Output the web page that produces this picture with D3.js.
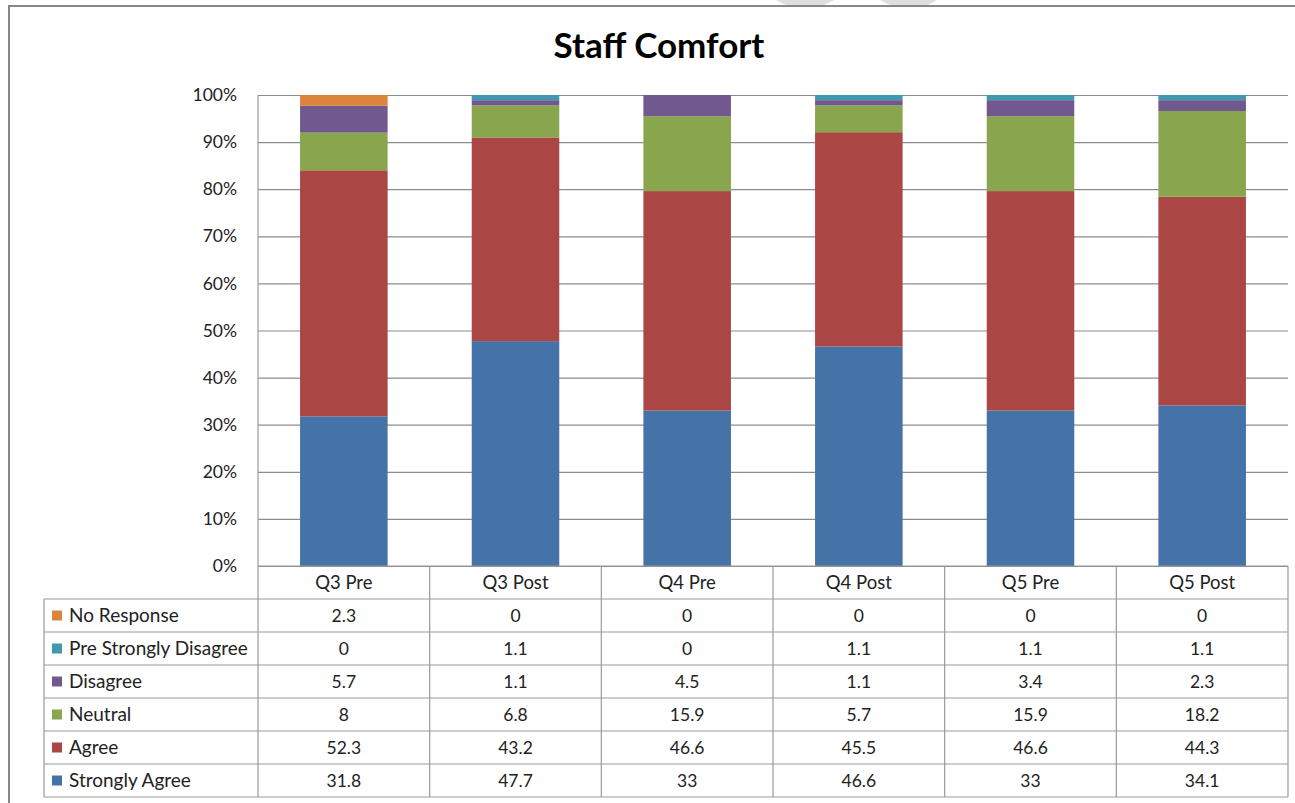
<!DOCTYPE html>
<html>
<head>
<meta charset="utf-8">
<script src="https://cdn.jsdelivr.net/npm/d3@7"></script>
<style>
  html, body { margin: 0; padding: 0; background: #fff; }
  svg { display: block; font-family: Lato, "Open Sans", sans-serif; }
</style>
</head>
<body>
<svg id="chart" width="1295" height="803"></svg>
<script>
// Survey groups along the x axis
const categories = ["Q3 Pre", "Q3 Post", "Q4 Pre", "Q4 Post", "Q5 Pre", "Q5 Post"];

// Responses per group (percent), listed bottom-to-top in the stack
const strongAgree   = [31.8, 47.7, 33,   46.6, 33,   34.1];
const agree         = [52.3, 43.2, 46.6, 45.5, 46.6, 44.3];
const neutral       = [8,    6.8,  15.9, 5.7,  15.9, 18.2];
const disagree      = [5.7,  1.1,  4.5,  1.1,  3.4,  2.3];
const strongDisagree= [0,    1.1,  0,    1.1,  1.1,  1.1];
const noResponse    = [2.3,  0,    0,    0,    0,    0];

const seriesNames  = ["Strongly Agree", "Agree", "Neutral", "Disagree", "Pre Strongly Disagree", "No Response"];
const seriesValues = [strongAgree, agree, neutral, disagree, strongDisagree, noResponse];
const seriesColors = ["#4572A7", "#AA4643", "#89A54E", "#71588F", "#4198AF", "#DB843D"];

const yTicks = [0, 0.1, 0.2, 0.3, 0.4, 0.5, 0.6, 0.7, 0.8, 0.9, 1];

// Rows of the data table for the stack
const rows = categories.map((c, i) => {
  const r = { cat: c };
  seriesNames.forEach((s, k) => { r[s] = seriesValues[k][i]; });
  return r;
});

const svg = d3.select("#chart");
const plot = { left: 258, right: 1288, top: 95, bottom: 566 };
const rowH = 33;
const legendLeft = 44;
const tableTop = plot.bottom;           // header row
const bodyTop = plot.bottom + rowH;     // first legend row
const labelSize = 18.5;
const numberSize = 17.5;

const x = d3.scaleBand().domain(categories).range([plot.left, plot.right]).paddingInner(0.49).paddingOuter(0.245);
const xCol = d3.scaleBand().domain(categories).range([plot.left, plot.right]);
const y = d3.scaleLinear().domain([0, 1]).range([plot.bottom, plot.top]);
const color = d3.scaleOrdinal().domain(seriesNames).range(seriesColors);

// Outer frame (left and top edges inside the window)
svg.append("path")
  .attr("d", `M9,803 V6 H1295`)
  .attr("fill", "none").attr("stroke", "#878787").attr("stroke-width", 2);

// Faint marks above the frame
svg.append("path").attr("d", "M776,0 H834 L824,5 H786 Z").attr("fill", "#dedede");
svg.append("path").attr("d", "M880,0 H937 L928,5 H890 Z").attr("fill", "#dedede");

// Title
svg.append("text")
  .attr("x", 659).attr("y", 58)
  .attr("text-anchor", "middle")
  .attr("font-size", 35).attr("font-weight", 700).attr("fill", "#000")
  .text("Staff Comfort");

// Gridlines
svg.append("g")
  .attr("transform", `translate(${plot.left},0)`)
  .call(d3.axisRight(y).tickValues(yTicks).tickSize(plot.right - plot.left).tickFormat(""))
  .call(g => g.select(".domain").remove())
  .call(g => g.selectAll("line").attr("stroke", "#8c8c8c").attr("stroke-width", 1.2));

// Y axis labels
svg.append("g")
  .attr("transform", `translate(${plot.left},0)`)
  .call(d3.axisLeft(y).tickValues(yTicks).tickSize(0).tickPadding(21).tickFormat(d3.format(".0%")))
  .call(g => g.select(".domain").remove())
  .call(g => g.selectAll("text").attr("font-size", 17.5).attr("fill", "#222").attr("font-family", "Lato, sans-serif"));

// Stacked 100% bars
const stack = d3.stack().keys(seriesNames).offset(d3.stackOffsetExpand);
const layers = stack(rows);
svg.append("g").selectAll("g")
  .data(layers).join("g")
  .attr("fill", d => color(d.key))
  .selectAll("rect")
  .data(d => d).join("rect")
  .attr("x", d => x(d.data.cat))
  .attr("width", x.bandwidth())
  .attr("y", d => y(d[1]))
  .attr("height", d => Math.max(0, y(d[0]) - y(d[1])));

// Data table
const table = svg.append("g").attr("stroke", "#9a9a9a").attr("stroke-width", 1.2).attr("fill", "none");
const tableBottom = bodyTop + rowH * seriesNames.length;
// Horizontal rules
table.append("line").attr("x1", plot.left).attr("x2", plot.right).attr("y1", tableTop).attr("y2", tableTop);
d3.range(seriesNames.length + 1).forEach(i => {
  const yy = bodyTop + i * rowH;
  table.append("line").attr("x1", legendLeft).attr("x2", plot.right).attr("y1", yy).attr("y2", yy);
});
// Vertical rules
table.append("line").attr("x1", plot.left).attr("x2", plot.left).attr("y1", plot.top).attr("y2", tableBottom);
table.append("line").attr("x1", legendLeft).attr("x2", legendLeft).attr("y1", bodyTop).attr("y2", tableBottom);
categories.forEach(c => {
  const xx = xCol(c) + xCol.bandwidth();
  table.append("line").attr("x1", xx).attr("x2", xx).attr("y1", tableTop).attr("y2", tableBottom);
});

// Header labels
svg.append("g").selectAll("text")
  .data(categories).join("text")
  .attr("x", d => xCol(d) + xCol.bandwidth() / 2)
  .attr("y", tableTop + rowH / 2)
  .attr("dy", "0.36em")
  .attr("text-anchor", "middle")
  .attr("font-size", labelSize).attr("fill", "#222")
  .text(d => d);

// Legend rows (top row = last series)
const legendOrder = seriesNames.slice().reverse();
const legendRows = svg.append("g").selectAll("g")
  .data(legendOrder).join("g")
  .attr("transform", (d, i) => `translate(0,${bodyTop + i * rowH})`);
legendRows.append("rect")
  .attr("x", 52).attr("y", rowH / 2 - 5)
  .attr("width", 10).attr("height", 10)
  .attr("fill", d => color(d));
legendRows.append("text")
  .attr("x", 69).attr("y", rowH / 2).attr("dy", "0.36em")
  .attr("font-size", 19).attr("fill", "#222")
  .text(d => d);

// Values in each cell
legendRows.each(function (name) {
  const vals = seriesValues[seriesNames.indexOf(name)];
  d3.select(this).selectAll("text.val")
    .data(vals).join("text")
    .attr("class", "val")
    .attr("x", (v, i) => xCol(categories[i]) + xCol.bandwidth() / 2)
    .attr("y", rowH / 2).attr("dy", "0.36em")
    .attr("text-anchor", "middle")
    .attr("font-size", numberSize).attr("fill", "#222")
    .text(v => String(v));
});
</script>
</body>
</html>
